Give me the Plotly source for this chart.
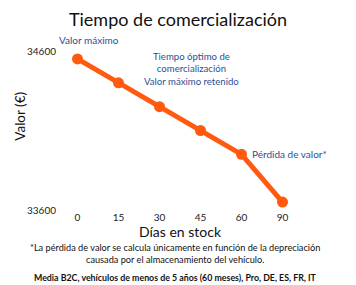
import plotly.graph_objects as go

dias = ["0", "15", "30", "45", "60", "90"]
valores = [34550, 34400, 34250, 34100, 33950, 33650]
y_ticks = [33600, 34600]

blue = "#2a4f95"
orange = "#ff5a0f"
font = "Lato, 'Open Sans', sans-serif"

fig = go.Figure()
fig.add_trace(go.Scatter(
    x=dias, y=valores, mode="lines+markers",
    line=dict(color=orange, width=5),
    marker=dict(color=orange, size=11),
    showlegend=False, hoverinfo="skip", cliponaxis=False,
))

fig.update_layout(
    width=356, height=285,
    margin=dict(l=57, r=53, t=51, b=75),
    paper_bgcolor="white", plot_bgcolor="white",
    font=dict(family=font, color="#222"),
    title=dict(text="Tiempo de comercialización", x=0.5, xanchor="center",
               y=0.93, yanchor="middle",
               font=dict(size=18, color="#111", family=font)),
    xaxis=dict(type="category", range=[-0.5, 5.5], showgrid=False, showline=False,
               zeroline=False, ticks="", tickfont=dict(size=10, color="#222"),
               title=dict(text="Días en stock", font=dict(size=14, color="#111"), standoff=4)),
    yaxis=dict(range=[33600, 34600], tickvals=y_ticks, ticktext=[str(v) for v in y_ticks],
               showgrid=True, gridcolor="#cccccc", gridwidth=1.5, zeroline=False,
               showline=False, ticks="", tickfont=dict(size=10, color="#222")),
)

fig.add_annotation(text="Valor (€)", textangle=-90, xref="paper", yref="paper",
                   x=-0.19, y=0.755, showarrow=False,
                   font=dict(size=13.5, color="#111"))
fig.add_annotation(text="Valor máximo", xref="paper", yref="paper",
                   x=0.0, y=1.02, xanchor="left", yanchor="bottom", showarrow=False,
                   font=dict(size=10, color=blue))
fig.add_annotation(text="Tiempo óptimo de<br>comercialización<br>Valor máximo retenido",
                   xref="paper", yref="paper", x=0.545, y=1.01, xanchor="center", yanchor="top",
                   showarrow=False, font=dict(size=9.6, color=blue))
fig.add_annotation(text="Pérdida de valor*", x=4, y=valores[4], xanchor="left",
                   yanchor="bottom", xshift=8, yshift=-8, showarrow=False,
                   font=dict(size=10, color=blue))
fig.add_annotation(text="*La pérdida de valor se calcula únicamente en función de la depreciación<br>causada por el almacenamiento del vehículo.",
                   xref="paper", yref="paper", x=0.48, y=-0.19, xanchor="center", yanchor="top",
                   showarrow=False, font=dict(size=9.2, color="#111"))
fig.add_annotation(text="<b>Media B2C, vehículos de menos de 5 años (60 meses), Pro, DE, ES, FR, IT</b>",
                   xref="paper", yref="paper", x=0.48, y=-0.375, xanchor="center", yanchor="top",
                   showarrow=False, font=dict(size=8.8, color="#111"))

fig.write_html("out.html")
